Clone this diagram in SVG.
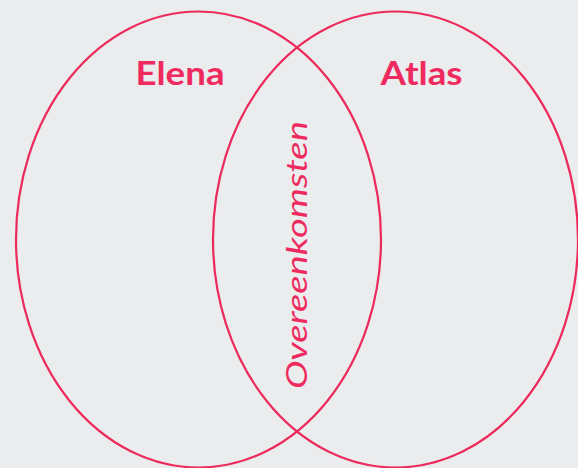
<svg xmlns="http://www.w3.org/2000/svg" width="578" height="468" viewBox="0 0 578 468">
<style>
.c{fill:none;stroke:#EC2A5C;stroke-width:2.2}
.t{fill:#EE2A5E;font-family:Lato,"Open Sans",sans-serif}
.h{font-size:32px;font-weight:700}
.v{font-size:29px;font-style:italic;font-weight:400}
</style>
<rect width="578" height="468" fill="#EBECEE"/>
<g id="connectors"/>
<g id="elena">
<ellipse class="c" cx="198.5" cy="239.5" rx="182.5" ry="228"/>
<text class="t h" x="180" y="85" text-anchor="middle" textLength="89" lengthAdjust="spacingAndGlyphs">Elena</text>
</g>
<g id="atlas">
<ellipse class="c" cx="395.5" cy="239.5" rx="182.5" ry="228"/>
<text class="t h" x="421.5" y="85" text-anchor="middle" textLength="82" lengthAdjust="spacingAndGlyphs">Atlas</text>
</g>
<g id="overeenkomsten">
<text class="t v" transform="translate(307,255) rotate(-90)" text-anchor="middle" textLength="268" lengthAdjust="spacingAndGlyphs">Overeenkomsten</text>
</g>
</svg>
